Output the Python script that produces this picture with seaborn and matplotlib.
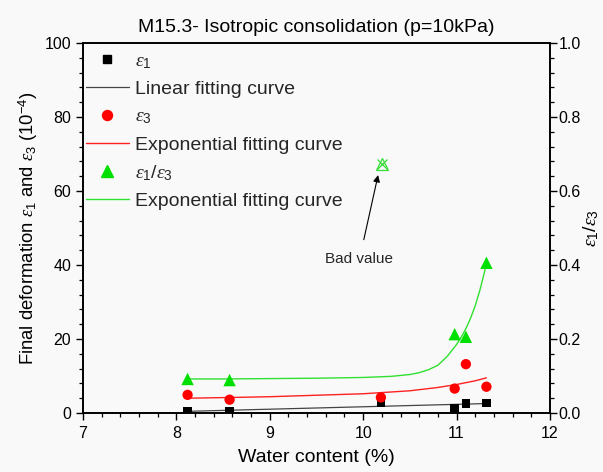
import numpy as np
import pandas as pd
import matplotlib
matplotlib.use("Agg")
import matplotlib.pyplot as plt
from matplotlib.ticker import MultipleLocator
from matplotlib.lines import Line2D
import seaborn as sns

# ---- data ----
water = [8.12, 8.57, 10.19, 10.98, 11.10, 11.32]
eps1 = [0.5, 0.4, 2.8, 1.3, 2.6, 2.7]
eps3 = [4.9, 3.6, 4.2, 6.6, 13.2, 7.1]
ratio_water = [8.12, 8.57, 10.98, 11.10, 11.32]
ratio = [0.092, 0.089, 0.213, 0.206, 0.406]
bad_water = [10.2]
bad_ratio = [0.672]

# fitted curves
lin_x = [8.12, 11.32]
lin_y = [0.45, 2.55]
exp3_x = [8.12, 8.6, 9.0, 9.5, 10.0, 10.5, 10.8, 11.0, 11.2, 11.32]
exp3_y = [4.0, 4.2, 4.4, 4.8, 5.2, 6.0, 6.9, 7.7, 8.7, 9.5]
expr_x = [8.12, 8.5, 9.0, 9.5, 10.0, 10.3, 10.5, 10.6, 10.7, 10.8, 10.9, 11.0,
          11.05, 11.1, 11.15, 11.2, 11.25, 11.3, 11.32]
expr_y = [0.092, 0.092, 0.093, 0.094, 0.096, 0.099, 0.104, 0.109, 0.117, 0.129,
          0.153, 0.185, 0.205, 0.228, 0.256, 0.290, 0.332, 0.382, 0.406]

x_ticks = [7, 8, 9, 10, 11, 12]
y_ticks = [0, 20, 40, 60, 80, 100]
y2_ticks = [0.0, 0.2, 0.4, 0.6, 0.8, 1.0]

title = "M15.3- Isotropic consolidation (p=10kPa)"
xlabel = "Water content (%)"
ylabel = r"Final deformation $\varepsilon_1$ and $\varepsilon_3$ ($10^{-4}$)"
y2label = r"$\varepsilon_1/\varepsilon_3$"

sns.set_theme(style="ticks")
bg = "#f9f9f9"
plt.rcParams["font.family"] = ["Liberation Sans", "DejaVu Sans"]
plt.rcParams["mathtext.fontset"] = "custom"
plt.rcParams["mathtext.it"] = "Liberation Serif:italic"
plt.rcParams["mathtext.rm"] = "Liberation Sans"
plt.rcParams["mathtext.default"] = "it"

fig = plt.figure(figsize=(6.03, 4.72), dpi=100, facecolor=bg)
ax = fig.add_axes([0.1376, 0.125, 0.7744, 0.784])
ax.set_facecolor(bg)
ax2 = ax.twinx()

df1 = pd.DataFrame({"x": water, "e1": eps1, "e3": eps3})
dfl = pd.DataFrame({"x": lin_x, "y": lin_y})
df3 = pd.DataFrame({"x": exp3_x, "y": exp3_y})
dfr = pd.DataFrame({"x": ratio_water, "y": ratio})
dfrc = pd.DataFrame({"x": expr_x, "y": expr_y})
dfb = pd.DataFrame({"x": bad_water, "y": bad_ratio})

sns.lineplot(data=dfl, x="x", y="y", ax=ax, color="#444444", lw=0.9, label="_nolegend_")
sns.lineplot(data=df3, x="x", y="y", ax=ax, color="#ff2020", lw=1.0, label="_nolegend_")
sns.scatterplot(data=df1, x="x", y="e1", ax=ax, marker="s", color="black", s=38,
                edgecolor="none", zorder=5, label="_nolegend_")
sns.scatterplot(data=df1, x="x", y="e3", ax=ax, marker="o", color="#ff0000", s=55,
                edgecolor="none", zorder=5, label="_nolegend_")

sns.lineplot(data=dfrc, x="x", y="y", ax=ax2, color="#30e030", lw=1.0, label="_nolegend_")
sns.scatterplot(data=dfr, x="x", y="y", ax=ax2, marker="^", color="#00e000", s=80,
                edgecolor="none", zorder=5, label="_nolegend_")
ax2.plot(dfb["x"], dfb["y"], marker="^", mfc="none", mec="#33dd33", ms=8, mew=0.9, ls="none")
ax2.plot(dfb["x"], dfb["y"], marker="x", color="#33dd33", ms=7, mew=0.9, ls="none")

for a in (ax, ax2):
    if a.get_legend() is not None:
        a.get_legend().remove()

ax.set_xlim(7, 12)
ax.set_ylim(0, 100)
ax2.set_ylim(0, 1.0)
ax.set_xticks(x_ticks)
ax.set_yticks(y_ticks)
ax2.set_yticks(y2_ticks)
ax.xaxis.set_minor_locator(MultipleLocator(0.2))
ax.yaxis.set_minor_locator(MultipleLocator(4))
ax2.yaxis.set_minor_locator(MultipleLocator(0.04))
ax2.set_yticklabels([f"{v:.1f}" for v in y2_ticks])

for a in (ax, ax2):
    a.tick_params(which="major", direction="out", length=5, width=1.0, labelsize=11.5,
                  color="black", labelcolor="black", pad=3.5)
    a.tick_params(which="minor", direction="out", length=3, width=0.9, color="black")
    for s in a.spines.values():
        s.set_color("black")
        s.set_linewidth(1.2)
ax.tick_params(axis="x", which="major", pad=4)
ax.tick_params(axis="x", which="both", top=False)
ax2.tick_params(axis="y", which="major", pad=1)

ax.set_xlabel(xlabel, fontsize=14, labelpad=6, color="black")
ax.set_ylabel(ylabel, fontsize=13.3, color="black")
ax.yaxis.set_label_coords(-0.092, 0.5)
ax2.set_ylabel(y2label, fontsize=14, color="black", rotation=90)
ax2.yaxis.set_label_coords(1.068, 0.5)
ax.set_title(title, fontsize=14, pad=8, color="black")

ax.annotate("Bad value", xy=(10.16, 64.3), xytext=(9.96, 41.5), fontsize=11,
            ha="center", va="center",
            arrowprops=dict(arrowstyle="-|>", color="black", lw=0.8,
                            shrinkA=7, shrinkB=0, mutation_scale=10))

handles = [
    Line2D([], [], marker="s", color="black", ls="none", ms=6),
    Line2D([], [], color="#444444", lw=0.9),
    Line2D([], [], marker="o", color="#ff0000", ls="none", ms=7.2),
    Line2D([], [], color="#ff2020", lw=1.0),
    Line2D([], [], marker="^", color="#00e000", ls="none", ms=8.8),
    Line2D([], [], color="#30e030", lw=1.0),
]
labels = [r"$\varepsilon_1$", "Linear fitting curve", r"$\varepsilon_3$",
          "Exponential fitting curve", r"$\varepsilon_1/\varepsilon_3$",
          "Exponential fitting curve"]
leg = ax2.legend(handles, labels, loc="upper left", bbox_to_anchor=(0.0, 0.982),
                 frameon=False, fontsize=14, handlelength=2.2, handletextpad=0.3,
                 labelspacing=0.5, borderaxespad=0.0, borderpad=0.15)

fig.savefig("out.png", dpi=100, facecolor=bg)
